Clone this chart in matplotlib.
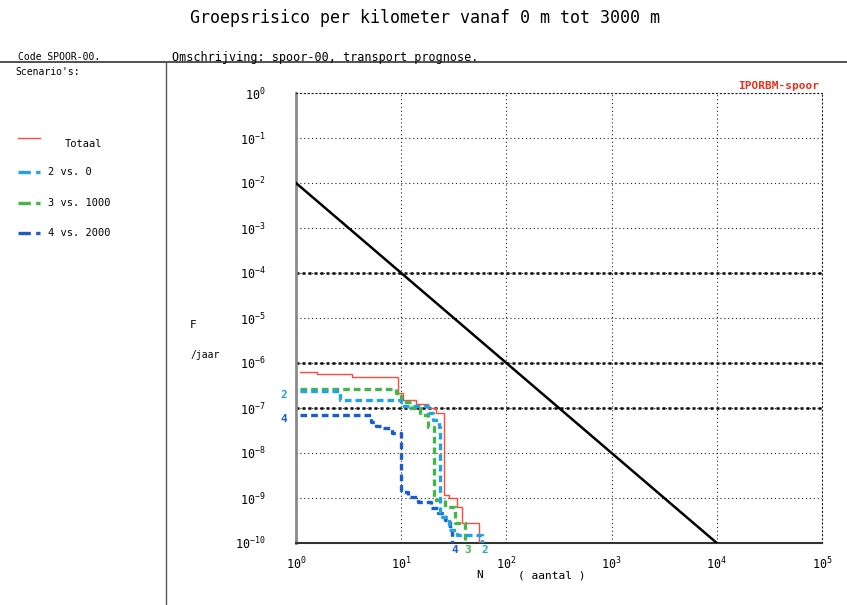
import matplotlib
matplotlib.use("Agg")
import matplotlib.pyplot as plt
from matplotlib.lines import Line2D
from matplotlib.ticker import LogLocator, LogFormatterMathtext, NullLocator

# FN curves: N (aantal slachtoffers) and F (per jaar), step "post"
totaal_n = [1.09, 1.6, 3.4, 9.4, 10.3, 13.8, 17.9, 21.5, 25.5, 28.7, 34.0, 38.0, 55.0]
totaal_f = [6.3e-7, 5.6e-7, 4.9e-7, 2.2e-7, 1.5e-7, 1.2e-7, 1.0e-7, 7.7e-8, 1.17e-9,
            1.0e-9, 6.3e-10, 2.8e-10, 5e-11]

sc2_n = [1.09, 2.6, 10.0, 17.9, 19.9, 22.8, 23.6, 28.7, 34.0, 58.0]
sc2_f = [2.4e-7, 1.5e-7, 1.1e-7, 7.7e-8, 5.5e-8, 3.8e-8, 3.8e-10, 1.9e-10, 1.5e-10, 5e-11]

sc3_n = [1.09, 9.0, 10.0, 12.4, 15.1, 17.9, 20.3, 26.3, 32.7, 40.0]
sc3_f = [2.6e-7, 2.2e-7, 1.36e-7, 1.0e-7, 6.9e-8, 3.8e-8, 9.0e-10, 6.3e-10, 2.8e-10, 5e-11]

sc4_n = [1.09, 5.2, 5.7, 6.5, 8.1, 10.0, 11.6, 14.4, 19.1, 22.2, 25.8, 29.3, 30.6]
sc4_f = [6.9e-8, 4.9e-8, 4.0e-8, 3.6e-8, 2.8e-8, 1.36e-9, 1.05e-9, 8.2e-10, 6.0e-10,
         4.6e-10, 3.2e-10, 1.9e-10, 5e-11]

# orientatiewaarde F = 1e-2 / N^2
norm_n = [1, 1e4]
norm_f = [1e-2, 1e-10]

legend_labels = ["Totaal", "2 vs. 0", "3 vs. 1000", "4 vs. 2000"]
curve_tags = ["2", "3", "4"]
emph_levels = [1e-4, 1e-6, 1e-7]

RED = "#ff4a3d"
CYAN = "#1fa3e3"
GREEN = "#45b548"
BLUE = "#1d5ccc"

plt.rcParams["font.family"] = ["DejaVu Sans Mono", "DejaVu Sans"]
plt.rcParams["mathtext.fontset"] = "dejavusans"

W, H = 847, 605
fig = plt.figure(figsize=(W / 100, H / 100), dpi=100)


def fx(px):
    return px / W


def fy(py):
    return 1 - py / H


ax = fig.add_axes([fx(296), fy(543), fx(822 - 296), fy(93) - fy(543)])
ax.set_xscale("log")
ax.set_yscale("log")
ax.set_xlim(1, 1e5)
ax.set_ylim(1e-10, 1)

ax.xaxis.set_major_locator(LogLocator(base=10, numticks=10))
ax.yaxis.set_major_locator(LogLocator(base=10, numticks=15))
ax.xaxis.set_minor_locator(NullLocator())
ax.yaxis.set_minor_locator(NullLocator())
ax.xaxis.set_major_formatter(LogFormatterMathtext())
ax.yaxis.set_major_formatter(LogFormatterMathtext())
ax.tick_params(axis="y", length=0, pad=22, labelsize=8.5)
ax.tick_params(axis="x", length=0, pad=9, labelsize=8.5)

ax.grid(True, which="major", color="#222222", linestyle=(0, (1, 2.5)), lw=0.8)
for lvl in emph_levels:
    ax.axhline(lvl, color="black", linestyle=(0, (1.2, 1.2)), lw=1.8, zorder=1)

ax.spines["left"].set_color("#8a8a8a")
ax.spines["left"].set_linewidth(2)
ax.spines["bottom"].set_color("#333333")
ax.spines["bottom"].set_linewidth(1.5)
for side in ["top", "right"]:
    ax.spines[side].set_linestyle((0, (1, 2.5)))
    ax.spines[side].set_color("#222222")

ax.plot(norm_n, norm_f, color="black", lw=1.8, zorder=3)

dash = (0, (2, 1.2))
h_tot, = ax.step(totaal_n, totaal_f, where="post", color=RED, lw=1.0, zorder=4)
h4, = ax.step(sc4_n, sc4_f, where="post", color=BLUE, lw=2.4, ls=dash, zorder=5)
h3, = ax.step(sc3_n, sc3_f, where="post", color=GREEN, lw=2.4, ls=dash, zorder=6)
h2, = ax.step(sc2_n, sc2_f, where="post", color=CYAN, lw=2.4, ls=dash, zorder=7)

# curve numbers at the start and end of the scenario curves
for tag, ns, col in zip(curve_tags, [sc2_n, sc3_n, sc4_n], [CYAN, GREEN, BLUE]):
    ax.annotate(tag, xy=(ns[-1], 1e-10), xytext=(2, -5), textcoords="offset points",
                ha="center", va="center", color=col, fontsize=8, fontweight="bold",
                annotation_clip=False)
for tag, fs, col in [("2", sc2_f, CYAN), ("4", sc4_f, BLUE)]:
    ax.annotate(tag, xy=(1, fs[0]), xytext=(-9, -3), textcoords="offset points",
                ha="center", va="center", color=col, fontsize=8, fontweight="bold",
                annotation_clip=False)

ax.text(0.995, 1.005, "IPORBM-spoor", transform=ax.transAxes, ha="right", va="bottom",
        color="#e8301f", fontsize=8, fontweight="bold")

# axis titles
fig.text(fx(193), fy(325), "F", fontsize=8, ha="center", va="center")
fig.text(fx(205), fy(355), "/jaar", fontsize=7, ha="center", va="center")
fig.text(fx(480), fy(575), "N", fontsize=8, ha="center", va="center")
fig.text(fx(552), fy(575), "( aantal )", fontsize=8, ha="center", va="center")

# title and header
fig.text(0.502, fy(18), "Groepsrisico per kilometer vanaf 0 m tot 3000 m",
         fontsize=12, ha="center", va="center")
fig.text(fx(18), fy(57), "Code SPOOR-00.", fontsize=7, ha="left", va="center")
fig.text(fx(172), fy(57), "Omschrijving: spoor-00, transport prognose.", fontsize=8.5,
         ha="left", va="center")
fig.add_artist(Line2D([0, 1], [fy(62), fy(62)], color="#333333", lw=1.2))
fig.add_artist(Line2D([fx(166), fx(166)], [0, fy(62)], color="#555555", lw=1.0))
fig.text(fx(15), fy(72), "Scenario's:", fontsize=7, ha="left", va="center")

# legend drawn in the left panel
legend_y = [138, 172, 203, 233]
for lab, handle, py in zip(legend_labels, [h_tot, h2, h3, h4], legend_y):
    fig.add_artist(Line2D([fx(18), fx(40)], [fy(py), fy(py)], color=handle.get_color(),
                          lw=handle.get_linewidth(), ls=handle.get_linestyle()))
    tx = 65 if lab == "Totaal" else 48
    ty = py + 6 if lab == "Totaal" else py
    fig.text(fx(tx), fy(ty), lab, fontsize=7.5, ha="left", va="center")

fig.savefig("out.png", dpi=100)
